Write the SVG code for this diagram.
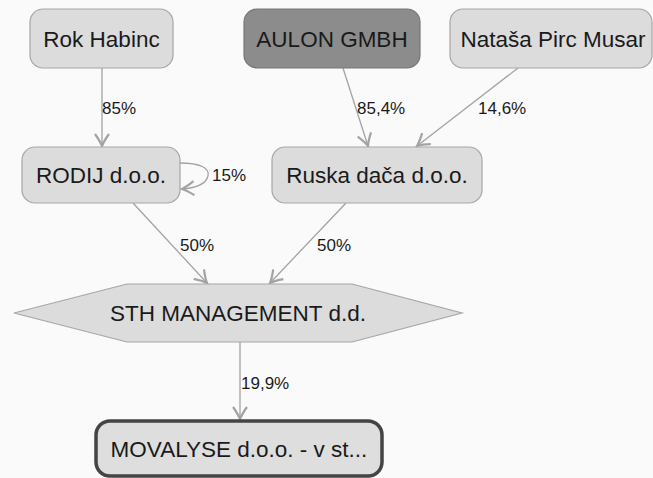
<svg xmlns="http://www.w3.org/2000/svg" width="653" height="478" viewBox="0 0 653 478">
<style>
.node{fill:#dcdcdc;stroke:#a6a6a6;stroke-width:1.2}
.dark{fill:#8c8c8c;stroke:#777;stroke-width:1.2}
.main{fill:#dedede;stroke:#444;stroke-width:3.5}
.t{font-family:"Liberation Sans",Arial,sans-serif;font-size:22.5px;fill:#1a1a1a;text-anchor:middle}
.l{font-family:"Liberation Sans",Arial,sans-serif;font-size:17px;fill:#1a1a1a}
.e{fill:none;stroke:#a3a3a3;stroke-width:1.3;marker-end:url(#ah)}
</style>
<defs>
<marker id="ah" markerUnits="userSpaceOnUse" markerWidth="18" markerHeight="18" refX="13" refY="9" orient="auto">
<path d="M1,2 Q8,7 13,9 Q8,11 1,16" fill="none" stroke="#a3a3a3" stroke-width="2.2"/>
</marker>
</defs>
<rect width="653" height="478" fill="#fafafa"/>
<g id="edges">
<line class="e" x1="102" y1="68" x2="102" y2="146"/>
<path class="e" d="M180,163 C200,163 210,168 208,176 C206,184 196,188 182,189"/>
<line class="e" x1="343" y1="68" x2="368" y2="146"/>
<line class="e" x1="518" y1="68" x2="417" y2="146"/>
<line class="e" x1="133" y1="203" x2="207" y2="283"/>
<line class="e" x1="346" y1="203" x2="270" y2="283"/>
<line class="e" x1="240" y1="342" x2="240" y2="419"/>
<text class="l" x="102" y="114">85%</text>
<text class="l" x="212" y="181">15%</text>
<text class="l" x="357" y="114">85,4%</text>
<text class="l" x="478" y="114">14,6%</text>
<text class="l" x="180" y="251">50%</text>
<text class="l" x="317" y="251">50%</text>
<text class="l" x="241" y="389">19,9%</text>
</g>
<g id="rok"><rect class="node" x="30" y="9" width="143" height="59" rx="13"/><text class="t" x="101.5" y="46.5">Rok Habinc</text></g>
<g id="aulon"><rect class="dark" x="244" y="9" width="176" height="59" rx="13"/><text class="t" x="332" y="46.5">AULON GMBH</text></g>
<g id="natasa"><rect class="node" x="450" y="9" width="202" height="59" rx="13"/><text class="t" x="553" y="46.5">Nataša Pirc Musar</text></g>
<g id="rodij"><rect class="node" x="22" y="147" width="158" height="56" rx="13"/><text class="t" x="101" y="182.5">RODIJ d.o.o.</text></g>
<g id="ruska"><rect class="node" x="272" y="147" width="210" height="56" rx="13"/><text class="t" x="377" y="182.5">Ruska dača d.o.o.</text></g>
<g id="sth"><polygon class="node" points="14,313 127,284 352,284 462,313 352,342 127,342"/><text class="t" x="238" y="321">STH MANAGEMENT d.d.</text></g>
<g id="movalyse"><rect class="main" x="96" y="421" width="286" height="55" rx="14"/><text class="t" x="239" y="456.5">MOVALYSE d.o.o. - v st...</text></g>
</svg>
